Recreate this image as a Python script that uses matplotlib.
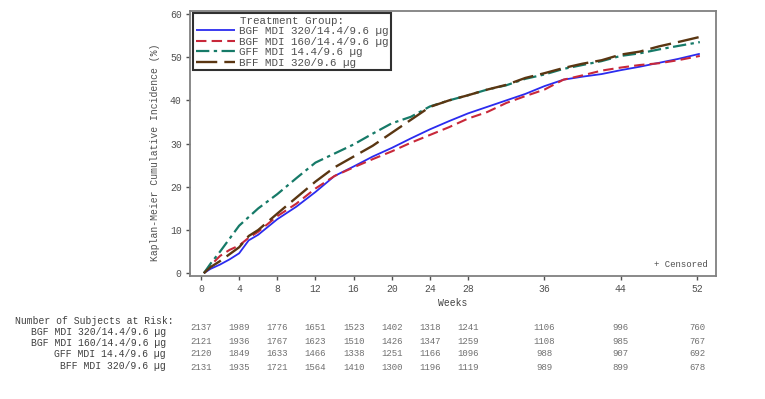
import matplotlib
matplotlib.use('Agg')
import matplotlib.pyplot as plt
from matplotlib.transforms import blended_transform_factory

# Kaplan-Meier cumulative incidence (%)
weeks = [0.3, 1, 2, 3, 4, 5, 6, 8, 10, 12, 14, 16, 18, 20, 22, 24, 26, 28,
         30, 32, 34, 36, 38, 40, 42, 44, 46, 48, 50, 52.3]
bgf320 = [0, 1.0, 2.0, 3.2, 4.6, 7.6, 8.9, 12.5, 15.4, 18.8, 22.5, 24.7, 27.0, 29.0,
          31.2, 33.3, 35.2, 37.0, 38.5, 40.0, 41.5, 43.3, 44.8, 45.5, 46.1, 47.0,
          47.8, 48.7, 49.6, 50.8]
bgf160 = [0, 1.8, 4.0, 5.4, 6.4, 8.2, 9.6, 13.2, 16.1, 19.6, 22.5, 24.5, 26.4, 28.2,
          30.2, 32.0, 33.8, 35.8, 37.3, 39.4, 41.0, 42.5, 44.8, 45.8, 46.9, 47.6,
          48.2, 48.6, 49.3, 50.3]
gff = [0, 2.2, 5.0, 8.0, 11.0, 13.0, 15.0, 18.3, 22.0, 25.6, 27.7, 29.8, 32.3, 34.7,
       36.2, 38.6, 40.0, 41.2, 42.5, 43.5, 45.0, 46.0, 47.3, 48.2, 49.1, 50.3,
       50.9, 51.8, 52.6, 53.5]
bff = [0, 1.4, 2.8, 4.4, 6.0, 8.6, 10.0, 13.8, 17.5, 21.2, 24.5, 27.0, 29.5, 32.5,
       35.5, 38.5, 40.0, 41.2, 42.5, 43.6, 45.2, 46.3, 47.5, 48.5, 49.3, 50.6,
       51.3, 52.5, 53.5, 54.7]

group_labels = ["BGF MDI 320/14.4/9.6 µg", "BGF MDI 160/14.4/9.6 µg",
                "GFF MDI 14.4/9.6 µg", "BFF MDI 320/9.6 µg"]

# Number of subjects at risk
risk_weeks = [0, 4, 8, 12, 16, 20, 24, 28, 36, 44, 52]
risk_bgf320 = [2137, 1989, 1776, 1651, 1523, 1402, 1318, 1241, 1106, 996, 760]
risk_bgf160 = [2121, 1936, 1767, 1623, 1510, 1426, 1347, 1259, 1108, 985, 767]
risk_gff = [2120, 1849, 1633, 1466, 1338, 1251, 1166, 1096, 988, 907, 692]
risk_bff = [2131, 1935, 1721, 1564, 1410, 1300, 1196, 1119, 989, 899, 678]

plt.rcParams['font.family'] = ['Liberation Mono', 'DejaVu Sans Mono']

fig = plt.figure(figsize=(7.65, 3.99), dpi=100)
ax = fig.add_axes([0.2484, 0.3083, 0.6876, 0.6641])

series = [
    (bgf320, "#2b2bef", (0, ()), 1.3),
    (bgf160, "#c8283a", (0, (5, 2.5)), 1.5),
    (gff, "#167a68", (0, (6, 2, 1.5, 2)), 1.6),
    (bff, "#5a3612", (0, (9, 3)), 1.7),
]
for (vals, color, ls, lw), label in zip(series, group_labels):
    ax.plot(weeks, vals, color=color, linestyle=ls, linewidth=lw, label=label)

ax.set_xlim(-1.15, 54)
ax.set_ylim(-0.65, 60.7)
ax.set_xticks(risk_weeks)
ax.set_yticks([0, 10, 20, 30, 40, 50, 60])
ax.tick_params(labelsize=7, colors='#505050', length=3, width=1, pad=3)
for sp in ax.spines.values():
    sp.set_color('#808080')
    sp.set_linewidth(1.3)

ax.set_xlabel("Weeks", fontsize=7, color='#404040', labelpad=3)
ax.set_ylabel("Kaplan-Meier Cumulative Incidence (%)", fontsize=7, color='#505050')
ax.yaxis.set_label_coords(-0.057, 0.465)

leg = ax.legend(loc='upper left', bbox_to_anchor=(0.006, 0.992), borderaxespad=0,
                title="Treatment Group:", fontsize=7.8, title_fontsize=7.8,
                fancybox=False, handlelength=3.6, handletextpad=0.4,
                labelspacing=0.04, borderpad=0.25, framealpha=1)
leg.get_frame().set_edgecolor('#303030')
leg.get_frame().set_linewidth(1.5)
for t in leg.get_texts():
    t.set_color('#505050')
leg.get_title().set_color('#505050')

ax.text(0.985, 0.025, "+ Censored", transform=ax.transAxes, ha='right', va='bottom',
        fontsize=6.5, color='#505050')

# Risk table
fig.text(15 / 765, 1 - 321 / 399, "Number of Subjects at Risk:", fontsize=7,
         color='#404040', va='center', ha='left')
label_y = [332, 343, 354, 366]
num_y = [327, 341, 354, 368]
trans = blended_transform_factory(ax.transData, fig.transFigure)
for lab, ly, ny, counts in zip(group_labels, label_y, num_y,
                               [risk_bgf320, risk_bgf160, risk_gff, risk_bff]):
    fig.text(166 / 765, 1 - ly / 399, lab, fontsize=7, color='#404040',
             va='center', ha='right')
    for w, c in zip(risk_weeks, counts):
        fig.text(w, 1 - ny / 399, str(c), transform=trans, fontsize=6.5,
                 color='#707070', va='center', ha='center')

fig.savefig("out.png", dpi=100)
